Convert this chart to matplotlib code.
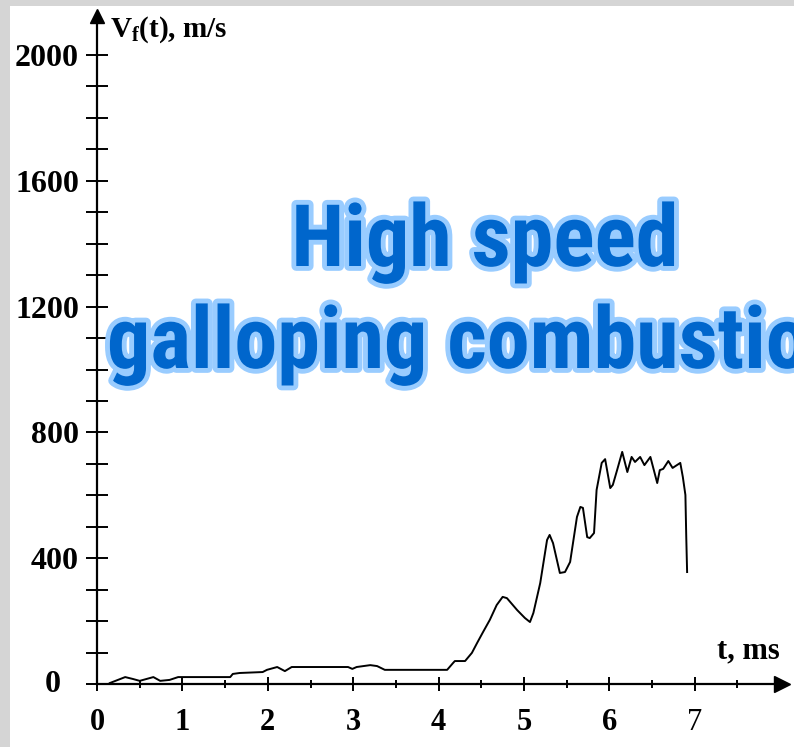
import matplotlib
matplotlib.use('Agg')
import matplotlib.pyplot as plt
import matplotlib.patheffects as pe
from matplotlib import font_manager
import numpy as np

# flame front velocity
t_ms = [0.15, 0.33, 0.42, 0.50, 0.66, 0.74, 0.85, 0.95, 1.56, 1.59, 1.67, 1.94, 1.99,
        2.11, 2.20, 2.28, 2.94, 2.99, 3.04, 3.20, 3.28, 3.37, 4.10, 4.17, 4.19, 4.31,
        4.39, 4.45, 4.52, 4.60, 4.68, 4.75, 4.80, 4.92, 5.01, 5.07, 5.11, 5.19, 5.27,
        5.30, 5.34, 5.42, 5.48, 5.54, 5.62, 5.66, 5.69, 5.74, 5.77, 5.82, 5.85, 5.91,
        5.95, 6.01, 6.04, 6.09, 6.15, 6.21, 6.26, 6.30, 6.36, 6.41, 6.48, 6.56, 6.59,
        6.63, 6.69, 6.74, 6.83, 6.86, 6.89, 6.90, 6.91]
v_ms = [3, 22, 16, 10, 22, 10, 13, 22, 22, 32, 35, 38, 45,
        54, 41, 54, 54, 48, 54, 60, 57, 45, 45, 67, 73, 73,
        99, 130, 165, 204, 251, 277, 273, 235, 210, 197, 226, 321, 458,
        474, 448, 353, 356, 388, 531, 563, 560, 467, 464, 480, 617, 703,
        715, 623, 633, 680, 738, 674, 722, 706, 722, 696, 722, 639, 680,
        684, 709, 687, 703, 658, 601, 467, 356]

x_major = [0, 1, 2, 3, 4, 5, 6, 7]
x_minor = [0.5, 1.5, 2.5, 3.5, 4.5, 5.5, 6.5, 7.5]
y_major = [0, 400, 800, 1200, 1600, 2000]
y_minor = list(range(100, 2100, 100))

title_lines = ['High speed', 'galloping combustion']

W, H = 794, 747
serif = ['Liberation Serif', 'DejaVu Serif']
plt.rcParams['mathtext.fontset'] = 'custom'
plt.rcParams['mathtext.rm'] = 'Liberation Serif:bold'
plt.rcParams['mathtext.it'] = 'Liberation Serif:bold'
plt.rcParams['mathtext.bf'] = 'Liberation Serif:bold'

names = {f.name for f in font_manager.fontManager.ttflist}
if 'Liberation Sans Narrow' in names:
    tfont, tsize, tstretch = 'Liberation Sans Narrow', 63, 'normal'
elif 'Roboto Condensed' in names:
    tfont, tsize, tstretch = 'Roboto Condensed', 62, 'normal'
else:
    tfont, tsize, tstretch = 'DejaVu Sans', 52, 'condensed'

fig = plt.figure(figsize=(W/100, H/100), dpi=100, facecolor='#d5d5d5')
# white sheet over the grey marble
fig.patches.append(plt.Rectangle((10/W, 0), 1, 1 - 6/H, transform=fig.transFigure,
                                 facecolor='white', edgecolor='none', zorder=-5))

x0, y0, px_t, px_v = 97, 684, 85.4, 0.3145
x_end, y_end = 782, 16
ax = fig.add_axes([x0/W, (H - y0)/H, (x_end - x0)/W, (y0 - y_end)/H])
ax.set_zorder(1)
ax.set_facecolor('none')
ax.set_xlim(0, (x_end - x0)/px_t)
ax.set_ylim(0, (y0 - y_end)/px_v)
for s in ['top', 'right']:
    ax.spines[s].set_visible(False)
for s in ['left', 'bottom']:
    ax.spines[s].set_linewidth(1.6)

ax.plot(t_ms, v_ms, color='black', lw=1.4)

# arrow heads
ax.plot([1], [0], marker='>', color='black', ms=11, transform=ax.transAxes, clip_on=False)
ax.plot([0], [1], marker='^', color='black', ms=10, transform=ax.transAxes, clip_on=False)

ax.set_xticks(x_major)
ax.set_xticks(x_minor, minor=True)
ax.set_xticklabels([str(v) for v in x_major], fontsize=22, fontweight='bold', family=serif)
ax.get_xticklabels()[-1].set_fontweight('normal')
ax.tick_params(axis='x', which='major', direction='inout', length=10, width=1.4, pad=12)
ax.tick_params(axis='x', which='minor', direction='inout', length=6, width=1.4)

ax.set_yticks(y_major)
ax.set_yticks(y_minor, minor=True)
ax.set_yticklabels([''] + [str(v) for v in y_major[1:]], fontsize=23, fontweight='bold', family=serif)
ax.tick_params(axis='y', which='both', direction='inout', length=16, width=1.4, pad=5)
ax.annotate('0', xy=(0, 0), xytext=(-44, 0), textcoords='offset pixels', ha='center', va='center',
            fontsize=23, fontweight='bold', family=serif, annotation_clip=False)

fig.text(110/W, 1 - 37/H, r'V$_{\mathrm{f}}$(t), m/s', fontsize=21, fontweight='bold',
         family=serif, va='baseline', ha='left')
fig.text(717/W, 1 - 658/H, 't, ms', fontsize=22, fontweight='bold', family=serif,
         va='baseline', ha='left')

outline = [pe.Stroke(linewidth=7, foreground='#99ccff'), pe.Normal()]
t1 = fig.text(485/W, 1 - 266/H, title_lines[0], fontsize=tsize, fontweight='bold', family=tfont,
              fontstretch=tstretch, color='#0066cc', ha='center', va='baseline', path_effects=outline)
t2 = fig.text(107/W, 1 - 368/H, title_lines[1], fontsize=tsize, fontweight='bold', family=tfont,
              fontstretch=tstretch, color='#0066cc', ha='left', va='baseline', path_effects=outline)
t1.set_zorder(5)
t2.set_zorder(5)

fig.savefig('out.png', dpi=100, facecolor=fig.get_facecolor())
